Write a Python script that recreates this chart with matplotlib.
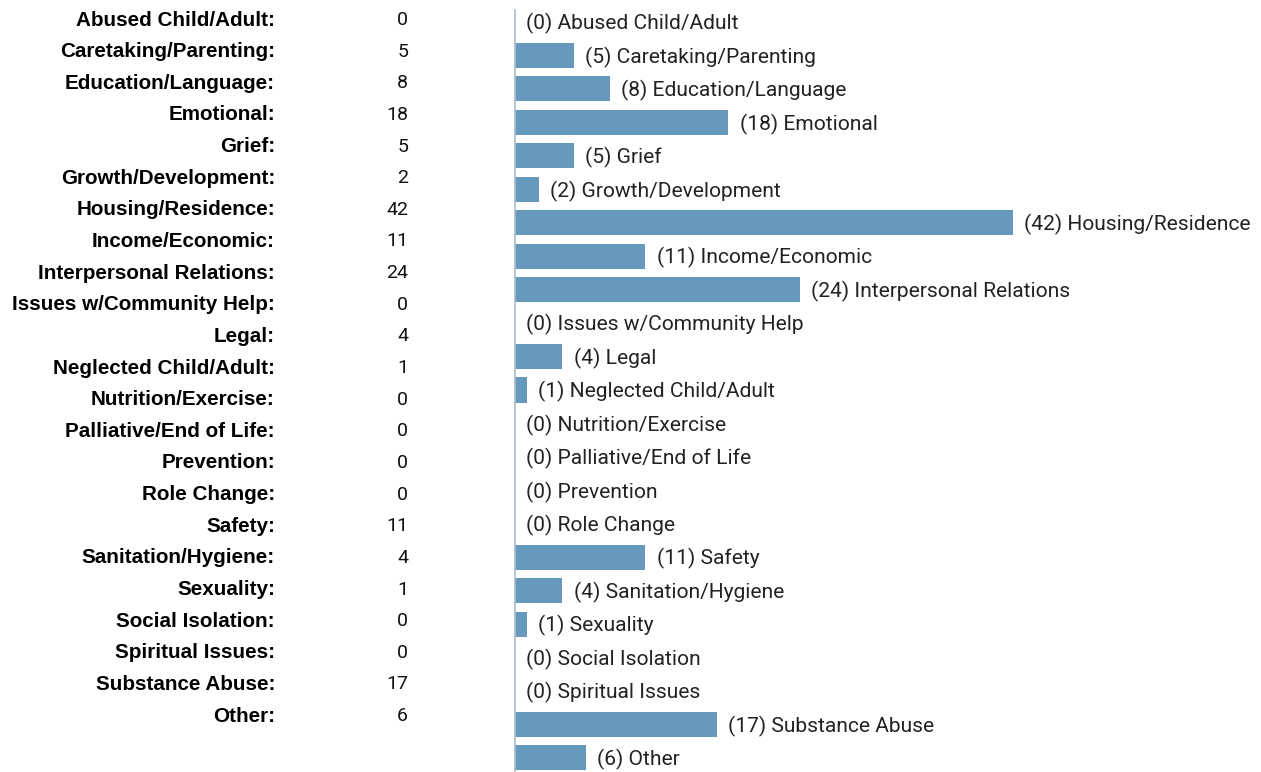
import matplotlib
matplotlib.use('Agg')
import matplotlib.pyplot as plt

categories = ['Abused Child/Adult', 'Caretaking/Parenting', 'Education/Language', 'Emotional',
              'Grief', 'Growth/Development', 'Housing/Residence', 'Income/Economic',
              'Interpersonal Relations', 'Issues w/Community Help', 'Legal',
              'Neglected Child/Adult', 'Nutrition/Exercise', 'Palliative/End of Life',
              'Prevention', 'Role Change', 'Safety', 'Sanitation/Hygiene', 'Sexuality',
              'Social Isolation', 'Spiritual Issues', 'Substance Abuse', 'Other']
counts = [0, 5, 8, 18, 5, 2, 42, 11, 24, 0, 4, 1, 0, 0, 0, 0, 11, 4, 1, 0, 0, 17, 6]

plt.rcParams['font.family'] = ['Roboto', 'DejaVu Sans']

W, H = 1261, 772
fig = plt.figure(figsize=(W / 100, H / 100), dpi=100)

# left table: label + value
for i, (c, v) in enumerate(zip(categories, counts)):
    y = 1 - (20 + i * 31.64) / H
    fig.text(275 / W, y, c + ':', ha='right', va='center', fontsize=14.9, fontweight='bold',
             family=['Liberation Sans', 'DejaVu Sans'], color='#000000')
    fig.text(408 / W, y, str(v), ha='right', va='center', fontsize=14, color='#111111')

# bar chart
ax = fig.add_axes([515 / W, 0, (W - 515) / W, 762 / H])
y_pos = list(range(len(categories)))
ax.barh(y_pos, counts, height=0.75, color='#6699bb')
for i, (c, v) in enumerate(zip(categories, counts)):
    ax.annotate('(%d) %s' % (v, c), (v, i), xytext=(8, -1.2), textcoords='offset points',
                ha='left', va='center', fontsize=15.1, color='#222222')

ax.set_xlim(0, (W - 515) / 11.86)
ax.set_ylim(22.42, -0.36)
for s in ['top', 'right', 'bottom']:
    ax.spines[s].set_visible(False)
ax.spines['left'].set_color('#a9bccb')
ax.spines['left'].set_linewidth(1.2)
ax.set_xticks([])
ax.set_yticks([])
ax.patch.set_alpha(0)

fig.savefig('out.png', dpi=100)
